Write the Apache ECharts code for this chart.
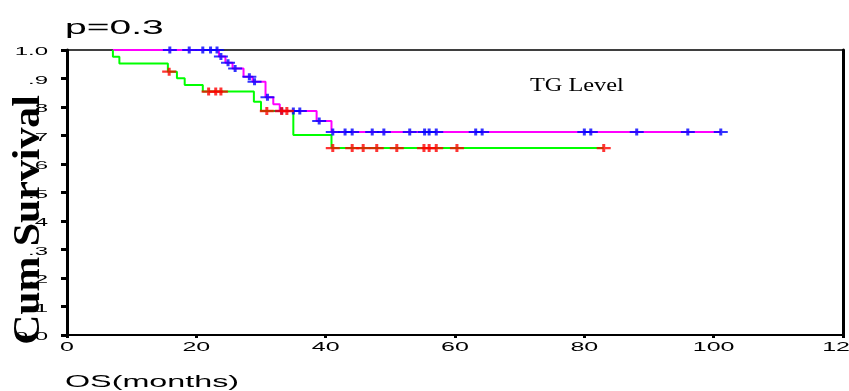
<!DOCTYPE html>
<html><head><meta charset="utf-8">
<script src="https://cdn.jsdelivr.net/npm/echarts@6/dist/echarts.min.js"></script>
<style>html,body{margin:0;padding:0;background:#fff}#c{width:849px;height:391px}</style>
</head><body><div id="c"></div>
<script>
// ---- tick labels ----
const xTicks = [0, 20, 40, 60, 80, 100, 120];
const xTickLabels = ['0', '20', '40', '60', '80', '100', '120'];
const yTicks = [0, 0.1, 0.2, 0.3, 0.4, 0.5, 0.6, 0.7, 0.8, 0.9, 1.0];
const yTickLabels = ['0.0', '.1', '.2', '.3', '.4', '.5', '.6', '.7', '.8', '.9', '1.0'];

// ---- texts ----
const titleText = 'p=0.3';
const xAxisTitle = 'OS(months)';
const yAxisTitle = 'Cum Survival';
const legendTitle = 'TG Level';

// ---- group A: magenta survival line, blue censor marks ----
const magentaTimes = [7.1, 23.5, 24.5, 25.6, 27.3, 28.7, 30.7, 31.9, 32.9, 38.6, 40.9, 101.1];
const magentaSurv  = [1.0, 0.977, 0.955, 0.935, 0.906, 0.889, 0.834, 0.810, 0.786, 0.751, 0.712, 0.712];
const blueCensorTimes = [15.9, 18.9, 21.0, 22.2, 23.2, 23.8, 24.9, 26.0, 28.2, 29.0, 31.0, 33.2, 35.0, 36.0, 39.0,
  41.1, 43.0, 44.1, 47.2, 49.0, 53.0, 55.3, 56.0, 57.1, 63.2, 64.2, 80.0, 81.0, 88.1, 96.0, 101.1];
const blueCensorSurv = [1.0, 1.0, 1.0, 1.0, 1.0, 0.977, 0.955, 0.935, 0.906, 0.889, 0.834, 0.786, 0.786, 0.786, 0.751,
  0.712, 0.712, 0.712, 0.712, 0.712, 0.712, 0.712, 0.712, 0.712, 0.712, 0.712, 0.712, 0.712, 0.712, 0.712, 0.712];

// ---- group B: green survival line, red censor marks ----
const greenTimes = [7.1, 7.1, 8.1, 15.6, 17.0, 18.2, 21.0, 28.9, 30.0, 35.0, 40.9, 83.0];
const greenSurv  = [1.0, 0.976, 0.953, 0.924, 0.901, 0.877, 0.854, 0.818, 0.786, 0.702, 0.656, 0.656];
const redCensorTimes = [15.8, 21.9, 23.0, 23.8, 30.9, 33.2, 34.0, 41.1, 44.1, 45.8, 47.9, 51.0, 55.2, 56.0, 57.1, 60.3, 83.0];
const redCensorSurv  = [0.924, 0.854, 0.854, 0.854, 0.786, 0.786, 0.786, 0.656, 0.656, 0.656, 0.656, 0.656, 0.656, 0.656, 0.656, 0.656, 0.656];

const zip = (a, b) => a.map((v, i) => [v, b[i]]);
const plusSymbol = 'path://M0,2.5L14,2.5L14,4.5L0,4.5Z M5.5,0L8.5,0L8.5,7L5.5,7Z';

const chart = echarts.init(document.getElementById('c'), null, { renderer: 'canvas' });
chart.setOption({
  animation: false,
  backgroundColor: '#fff',
  grid: { left: 67, right: 6, top: 50, bottom: 56, containLabel: false },
  xAxis: [
    { type: 'value', min: 0, max: 120, interval: 20, position: 'bottom',
      axisLine: { show: true, lineStyle: { color: '#000', width: 2 } },
      axisTick: { show: true, inside: false, length: 3, lineStyle: { color: '#000', width: 3 } },
      axisLabel: { show: false }, splitLine: { show: false } },
    { type: 'value', min: 0, max: 120, interval: 20, position: 'top',
      axisLine: { show: true, onZero: false, lineStyle: { color: '#000', width: 1.5 } },
      axisTick: { show: false }, axisLabel: { show: false }, splitLine: { show: false } }
  ],
  yAxis: [
    { type: 'value', min: 0, max: 1, interval: 0.1, position: 'left',
      axisLine: { show: true, lineStyle: { color: '#000', width: 3 } },
      axisTick: { show: true, inside: false, length: 6, lineStyle: { color: '#000', width: 3 } },
      axisLabel: { show: false }, splitLine: { show: false } },
    { type: 'value', min: 0, max: 1, interval: 0.1, position: 'right',
      axisLine: { show: true, onZero: false, lineStyle: { color: '#000', width: 3 } },
      axisTick: { show: false }, axisLabel: { show: false }, splitLine: { show: false } }
  ],
  series: [
    { type: 'line', name: 'magenta', step: 'end', data: zip(magentaTimes, magentaSurv),
      showSymbol: false, lineStyle: { color: '#ff00ff', width: 2 }, z: 2 },
    { type: 'line', name: 'green', step: 'end', data: zip(greenTimes, greenSurv),
      showSymbol: false, lineStyle: { color: '#00ff00', width: 2 }, z: 3 },
    { type: 'scatter', name: 'blueCensor', data: zip(blueCensorTimes, blueCensorSurv),
      symbol: plusSymbol, symbolSize: [14, 7], itemStyle: { color: '#0000ff' }, z: 4 },
    { type: 'scatter', name: 'redCensor', data: zip(redCensorTimes, redCensorSurv),
      symbol: plusSymbol, symbolSize: [14, 8], itemStyle: { color: '#ff0000' }, z: 5 }
  ]
});

function txt(text, x, y, o) {
  return {
    type: 'text', x: x, y: y, scaleX: o.sx || 1, rotation: o.rot || 0, silent: true, z: 100,
    style: { text: text, font: o.font, fill: '#000',
      textAlign: o.align || 'left', align: o.align || 'left',
      textVerticalAlign: o.valign || 'middle', verticalAlign: o.valign || 'middle' }
  };
}

const g = [];
xTicks.forEach((v, i) => {
  const p = chart.convertToPixel({ xAxisIndex: 0, yAxisIndex: 0 }, [v, 0]);
  g.push(txt(xTickLabels[i], p[0], p[1] + 13, { font: '12.5px "Liberation Sans", Arial, sans-serif', sx: 2.0, align: 'center' }));
});
yTicks.forEach((v, i) => {
  const p = chart.convertToPixel({ xAxisIndex: 0, yAxisIndex: 0 }, [0, v]);
  g.push(txt(yTickLabels[i], 48, p[1] + 2.5, { font: '10px "Liberation Sans", Arial, sans-serif', sx: 2.4, align: 'right' }));
});
g.push(txt(titleText, 65, 28, { font: '20px "Liberation Sans", Arial, sans-serif', sx: 1.95 }));
g.push(txt(xAxisTitle, 65, 382, { font: '17px "Liberation Sans", Arial, sans-serif', sx: 1.9 }));
g.push(txt(legendTitle, 530, 86, { font: '18px "Liberation Serif", "Times New Roman", serif', sx: 1.35 }));
g.push(txt(yAxisTitle, 29, 220, { font: 'bold 38px "Liberation Serif", "Times New Roman", serif', sx: 1.1, align: 'center', rot: Math.PI / 2 }));
chart.setOption({ graphic: g });
</script>
</body></html>
